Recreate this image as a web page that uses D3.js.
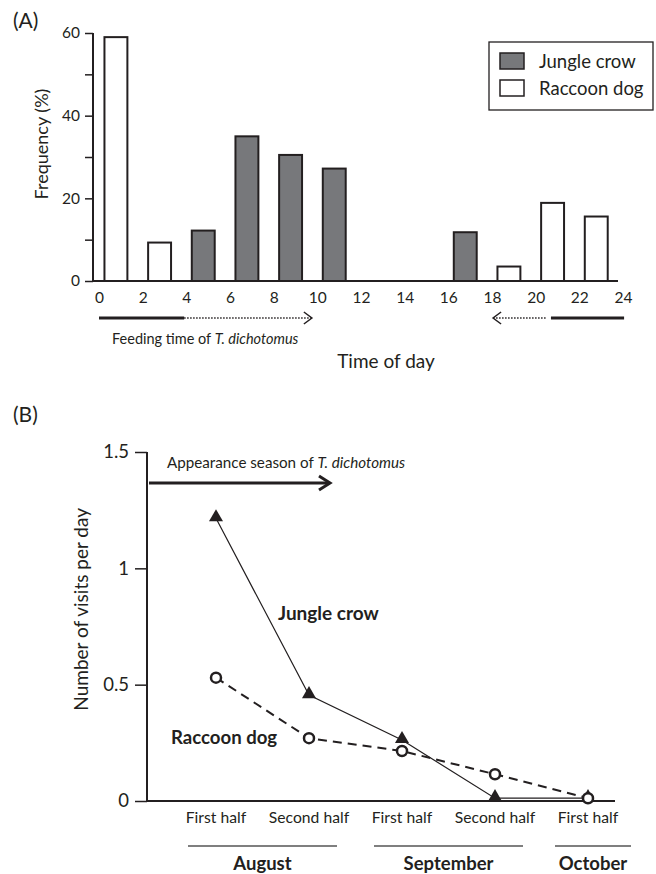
<!DOCTYPE html>
<html>
<head>
<meta charset="utf-8">
<script src="https://cdn.jsdelivr.net/npm/d3@7"></script>
<style>
  body { margin: 0; background: #fff; }
  svg { display: block; font-family: Lato, "Open Sans", sans-serif; }
</style>
</head>
<body>
<svg id="chart" width="656" height="874"></svg>
<script>
// ---------- Panel A data ----------
const hourStarts = [0, 2, 4, 6, 8, 10, 12, 14, 16, 18, 20, 22];
const crowFreq   = [0, 0, 12.2, 35, 30.5, 27.2, 0, 0, 11.8, 0, 0, 0];
const dogFreq    = [59, 9.3, 0, 0, 0, 0, 0, 0, 0, 3.5, 18.9, 15.6];
const hourTicks  = [0, 2, 4, 6, 8, 10, 12, 14, 16, 18, 20, 22, 24];
const freqTicks  = [0, 10, 20, 30, 40, 50, 60];
const legendItems = ["Jungle crow", "Raccoon dog"];

// ---------- Panel B data ----------
const periods     = ["Aug-1", "Aug-2", "Sep-1", "Sep-2", "Oct-1"];
const periodLabels = ["First half", "Second half", "First half", "Second half", "First half"];
const crowVisits  = [1.215, 0.455, 0.262, 0.012, 0.012];
const dogVisits   = [0.53, 0.27, 0.215, 0.115, 0.012];
const visitTicks  = [0, 0.5, 1, 1.5];
const months      = ["August", "September", "October"];
const monthSpans  = [["Aug-1", "Aug-2"], ["Sep-1", "Sep-2"], ["Oct-1", "Oct-1"]];

const ink = "#231f20";
const gray = "#77787b";
const svg = d3.select("#chart");

// ================= Panel A =================
const xA = d3.scaleLinear().domain([0, 24]).range([99, 623]);
const yA = d3.scaleLinear().domain([0, 60]).range([281, 33]);

svg.append("text").attr("x", 13).attr("y", 28).attr("font-size", 21).attr("fill", ink).text("(A)");

// bars
const barsA = hourStarts.map((h, i) => ({ h, crow: crowFreq[i], dog: dogFreq[i] }));
const barW = xA(1.05) - xA(0);
svg.append("g").selectAll("rect").data(barsA.filter(d => d.crow > 0 || d.dog > 0)).join("rect")
  .attr("x", d => xA(d.h + 0.25))
  .attr("y", d => yA(Math.max(d.crow, d.dog)))
  .attr("width", barW)
  .attr("height", d => yA(0) - yA(Math.max(d.crow, d.dog)))
  .attr("fill", d => d.crow > 0 ? gray : "#fff")
  .attr("stroke", ink).attr("stroke-width", 2);

// y axis
const yAxisA = svg.append("g").attr("transform", "translate(93,0)")
  .call(d3.axisLeft(yA).tickValues(freqTicks).tickSize(8).tickSizeOuter(0).tickPadding(5)
    .tickFormat(d => d % 20 === 0 ? d : ""));
yAxisA.select(".domain").attr("stroke", ink).attr("stroke-width", 2).attr("d", `M0,${yA(60)}V${yA(0)}`);
yAxisA.selectAll(".tick line").attr("stroke", ink).attr("stroke-width", 1.5);
yAxisA.selectAll(".tick text").attr("font-size", 15.5).attr("fill", ink).attr("font-family", "Lato");

// x axis
svg.append("line").attr("x1", 92).attr("x2", 618).attr("y1", yA(0)).attr("y2", yA(0))
  .attr("stroke", ink).attr("stroke-width", 2);
const xAxisA = svg.append("g").attr("transform", `translate(0,${yA(0)})`)
  .call(d3.axisBottom(xA).tickValues(hourTicks).tickSize(0).tickPadding(11));
xAxisA.select(".domain").remove();
xAxisA.selectAll(".tick text").attr("font-size", 15.5).attr("fill", ink).attr("font-family", "Lato");

svg.append("text").attr("transform", "translate(48,144) rotate(-90)")
  .attr("text-anchor", "middle").attr("font-size", 18).attr("fill", ink).text("Frequency (%)");
svg.append("text").attr("x", 386).attr("y", 368).attr("text-anchor", "middle")
  .attr("font-size", 19).attr("fill", ink).text("Time of day");

// legend
const lg = svg.append("g");
lg.append("rect").attr("x", 489).attr("y", 42).attr("width", 164).attr("height", 68)
  .attr("fill", "#fff").attr("stroke", ink).attr("stroke-width", 1.3);
legendItems.forEach((name, i) => {
  lg.append("rect").attr("x", 500).attr("y", 53 + i * 27).attr("width", 24).attr("height", 16)
    .attr("fill", i === 0 ? gray : "#fff").attr("stroke", ink).attr("stroke-width", 1.5);
  lg.append("text").attr("x", 539).attr("y", 68 + i * 27).attr("font-size", 18.5).attr("fill", ink).text(name);
});

// feeding time arrows
const ay = 318;
svg.append("line").attr("x1", xA(0)).attr("x2", xA(3.9)).attr("y1", ay).attr("y2", ay)
  .attr("stroke", ink).attr("stroke-width", 3);
svg.append("line").attr("x1", xA(3.9)).attr("x2", xA(9.75)).attr("y1", ay).attr("y2", ay)
  .attr("stroke", ink).attr("stroke-width", 1.5).attr("stroke-dasharray", "1.5,1.5");
svg.append("path").attr("d", `M${xA(9.75) - 8},${ay - 6}L${xA(9.75)},${ay}L${xA(9.75) - 8},${ay + 6}`)
  .attr("fill", "none").attr("stroke", ink).attr("stroke-width", 1.5);
svg.append("line").attr("x1", xA(18.05)).attr("x2", xA(20.5)).attr("y1", ay).attr("y2", ay)
  .attr("stroke", ink).attr("stroke-width", 1.5).attr("stroke-dasharray", "1.5,1.5");
svg.append("path").attr("d", `M${xA(18.05) + 8},${ay - 6}L${xA(18.05)},${ay}L${xA(18.05) + 8},${ay + 6}`)
  .attr("fill", "none").attr("stroke", ink).attr("stroke-width", 1.5);
svg.append("line").attr("x1", xA(20.7)).attr("x2", xA(24.05)).attr("y1", ay).attr("y2", ay)
  .attr("stroke", ink).attr("stroke-width", 3);
const ft = svg.append("text").attr("x", 112).attr("y", 344).attr("font-size", 14.5).attr("fill", ink);
ft.append("tspan").text("Feeding time of ");
ft.append("tspan").attr("font-style", "italic").text("T. dichotomus");

// ================= Panel B =================
const xB = d3.scalePoint().domain(periods).range([216, 588]);
const yB = d3.scaleLinear().domain([0, 1.5]).range([801, 452]);

svg.append("text").attr("x", 13).attr("y", 422).attr("font-size", 21).attr("fill", ink).text("(B)");

const yAxisB = svg.append("g").attr("transform", "translate(147,0)")
  .call(d3.axisLeft(yB).tickValues(visitTicks).tickSize(12).tickSizeOuter(0).tickPadding(6)
    .tickFormat(d => d));
yAxisB.select(".domain").attr("stroke", ink).attr("stroke-width", 2).attr("d", `M0,${yB(1.5)}V${yB(0)}`);
yAxisB.selectAll(".tick line").attr("stroke", ink).attr("stroke-width", 1.5);
yAxisB.selectAll(".tick text").attr("font-size", 18.5).attr("fill", ink).attr("font-family", "Lato");

svg.append("line").attr("x1", 146).attr("x2", 615).attr("y1", yB(0)).attr("y2", yB(0))
  .attr("stroke", ink).attr("stroke-width", 2);

svg.append("text").attr("transform", "translate(88,508) rotate(-90)")
  .attr("text-anchor", "end").attr("font-size", 19).attr("fill", ink).text("Number of visits per day");

// appearance season arrow
svg.append("line").attr("x1", 149).attr("x2", 328).attr("y1", 483).attr("y2", 483)
  .attr("stroke", ink).attr("stroke-width", 3);
svg.append("path").attr("d", "M319,476L330,483L319,490").attr("fill", "none")
  .attr("stroke", ink).attr("stroke-width", 3);
const at = svg.append("text").attr("x", 167).attr("y", 468).attr("font-size", 15.2).attr("fill", ink);
at.append("tspan").text("Appearance season of ");
at.append("tspan").attr("font-style", "italic").text("T. dichotomus");

// lines
const crowData = periods.map((p, i) => ({ p, v: crowVisits[i] }));
const dogData = periods.map((p, i) => ({ p, v: dogVisits[i] }));
const lineB = d3.line().x(d => xB(d.p)).y(d => yB(d.v));
svg.append("path").datum(dogData).attr("d", lineB).attr("fill", "none")
  .attr("stroke", ink).attr("stroke-width", 2).attr("stroke-dasharray", "9,6");
svg.append("path").datum(crowData).attr("d", lineB).attr("fill", "none")
  .attr("stroke", ink).attr("stroke-width", 1.2);

svg.append("g").selectAll("path").data(crowData).join("path")
  .attr("transform", d => `translate(${xB(d.p)},${yB(d.v) - 1})`)
  .attr("d", d3.symbol(d3.symbolTriangle, 85)).attr("fill", ink);
svg.append("g").selectAll("circle").data(dogData).join("circle")
  .attr("cx", d => xB(d.p)).attr("cy", d => yB(d.v)).attr("r", 5)
  .attr("fill", "#fff").attr("stroke", ink).attr("stroke-width", 2.5);

svg.append("text").attr("x", 278).attr("y", 620).attr("font-size", 19).attr("font-weight", "bold")
  .attr("fill", ink).text("Jungle crow");
svg.append("text").attr("x", 171).attr("y", 744).attr("font-size", 18.6).attr("font-weight", "bold")
  .attr("fill", ink).text("Raccoon dog");

// category labels
svg.append("g").selectAll("text").data(periods).join("text")
  .attr("x", d => xB(d)).attr("y", 823).attr("text-anchor", "middle")
  .attr("font-size", 15.7).attr("fill", ink).text((d, i) => periodLabels[i]);

// month brackets
months.forEach((m, i) => {
  const [a, b] = monthSpans[i];
  const x1 = xB(a) - 28, x2 = xB(b) + 28;
  svg.append("line").attr("x1", x1 - (i === 2 ? 5 : 0)).attr("x2", x2 + (i === 2 ? 15 : 0))
    .attr("y1", 846).attr("y2", 846).attr("stroke", "#555").attr("stroke-width", 1.3);
  svg.append("text").attr("x", (x1 + x2) / 2 + (i === 2 ? 5 : 0)).attr("y", 870).attr("text-anchor", "middle")
    .attr("font-size", 18.5).attr("font-weight", "bold").attr("fill", ink).text(m);
});
</script>
</body>
</html>
